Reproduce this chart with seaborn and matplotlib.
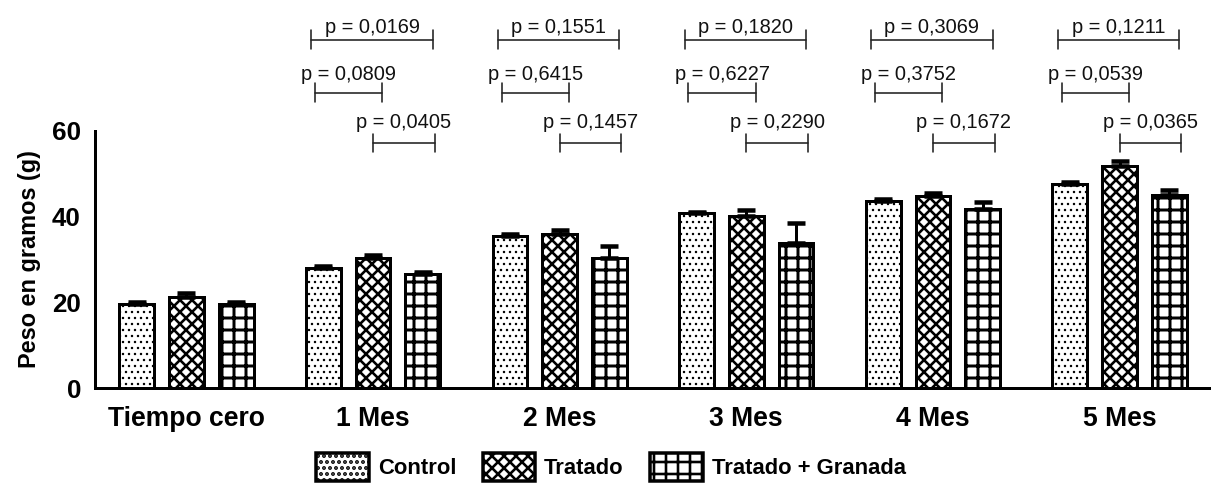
import numpy as np
import pandas as pd
import matplotlib
matplotlib.use("Agg")
import matplotlib.pyplot as plt
import seaborn as sns
from matplotlib.patches import Patch

# Datos: peso medio (g) y error estándar por grupo y tratamiento
grupos = ["Tiempo cero", "1 Mes", "2 Mes", "3 Mes", "4 Mes", "5 Mes"]
tratamientos = ["Control", "Tratado", "Tratado + Granada"]

control = [19.6, 28.1, 35.4, 40.8, 43.6, 47.7]
tratado = [21.3, 30.3, 35.9, 40.2, 44.8, 51.9]
granada = [19.6, 26.7, 30.3, 33.9, 41.7, 45.1]

control_ee = [0.4, 0.3, 0.5, 0.3, 0.6, 0.5]
tratado_ee = [0.8, 0.8, 1.1, 1.4, 0.8, 1.1]
granada_ee = [0.4, 0.3, 2.8, 4.6, 1.7, 1.1]

# Valores p de las comparaciones (desde "1 Mes" hasta "5 Mes")
p_control_granada = ["0,0169", "0,1551", "0,1820", "0,3069", "0,1211"]
p_control_tratado = ["0,0809", "0,6415", "0,6227", "0,3752", "0,0539"]
p_tratado_granada = ["0,0405", "0,1457", "0,2290", "0,1672", "0,0365"]

sns.set_style("white")
plt.rcParams["font.family"] = ["Liberation Sans", "DejaVu Sans"]
plt.rcParams["hatch.linewidth"] = 2.6
plt.rcParams["text.color"] = "black"
plt.rcParams["axes.labelcolor"] = "black"

DPI = 72
W, H = 1211, 488
fig = plt.figure(figsize=(W / DPI, H / DPI), dpi=DPI)
ax = fig.add_axes([95 / W, 100 / H, 1116 / W, 257 / H])

df = pd.DataFrame({
    "grupo": grupos * 3,
    "tratamiento": np.repeat(tratamientos, len(grupos)),
    "peso": control + tratado + granada,
})

sns.barplot(data=df, x="grupo", y="peso", hue="tratamiento",
            order=grupos, hue_order=tratamientos,
            palette={t: "white" for t in tratamientos},
            edgecolor="black", linewidth=3, width=0.8, gap=0.3,
            errorbar=None, legend=False, ax=ax)

tramas = {"Control": "..", "Tratado": "xx", "Tratado + Granada": "+"}
grosor_trama = {"Control": 1.2, "Tratado": 2.6, "Tratado + Granada": 3.0}
errores = dict(zip(tratamientos, [control_ee, tratado_ee, granada_ee]))

for cont, t in zip(ax.containers, tratamientos):
    for bar in cont:
        bar.set_hatch(tramas[t])
        if hasattr(bar, "set_hatch_linewidth"):
            bar.set_hatch_linewidth(grosor_trama[t])
    xs = [b.get_x() + b.get_width() / 2 for b in cont]
    hs = [b.get_height() for b in cont]
    ax.errorbar(xs, hs, yerr=[np.zeros(len(hs)), errores[t]], fmt="none",
                ecolor="black", elinewidth=3, capsize=9, capthick=4.5, zorder=3)

ax.set_xlim(-0.49, 5.49)
ax.set_ylim(0, 60)
ax.set_yticks([0, 20, 40, 60])
ax.set_xlabel("")
ax.set_ylabel("Peso en gramos (g)", fontsize=23.5, fontweight="bold",
              color="black", labelpad=11)
sns.despine(ax=ax)
for s in ("left", "bottom"):
    ax.spines[s].set_linewidth(3)
    ax.spines[s].set_color("black")
ax.tick_params(axis="both", which="major", direction="out", width=3, length=11,
               color="black", labelcolor="black")
ax.tick_params(axis="x", pad=7, labelsize=26.5)
ax.tick_params(axis="y", pad=3, labelsize=26)
for lab in ax.get_xticklabels() + ax.get_yticklabels():
    lab.set_fontweight("bold")

# Corchetes de comparación sobre cada grupo
centros = ax.get_xticks()[1:]
niveles = [
    (p_control_granada, -0.33, 0.32, 81.3, 82.8),
    (p_control_tratado, -0.31, 0.05, 68.9, 71.8),
    (p_tratado_granada, 0.00, 0.33, 57.2, 60.8),
]
brazo = 2.2
for pvals, d0, d1, yb, yt in niveles:
    for c, p in zip(centros, pvals):
        x0, x1 = c + d0, c + d1
        ax.plot([x0, x1], [yb, yb], color="#222222", lw=1.6, clip_on=False)
        ax.plot([x0, x0], [yb - brazo, yb + brazo], color="#222222", lw=1.6, clip_on=False)
        ax.plot([x1, x1], [yb - brazo, yb + brazo], color="#222222", lw=1.6, clip_on=False)
        ax.text((x0 + x1) / 2, yt, f"p = {p}", ha="center", va="baseline",
                fontsize=20, color="#111111", clip_on=False)

# Leyenda inferior
handles = [Patch(facecolor="white", edgecolor="black", linewidth=3.5, hatch=tramas[t])
           for t in tratamientos]
leg = fig.legend(handles, tratamientos, loc="center", bbox_to_anchor=(611 / W, 21 / H),
                 ncol=3, frameon=False, prop={"weight": "bold", "size": 22},
                 handlelength=2.4, handleheight=1.6, handletextpad=0.4,
                 columnspacing=1.2, borderpad=0, borderaxespad=0,
                 labelcolor="black")

fig.savefig("out.png", dpi=DPI, facecolor="white")
